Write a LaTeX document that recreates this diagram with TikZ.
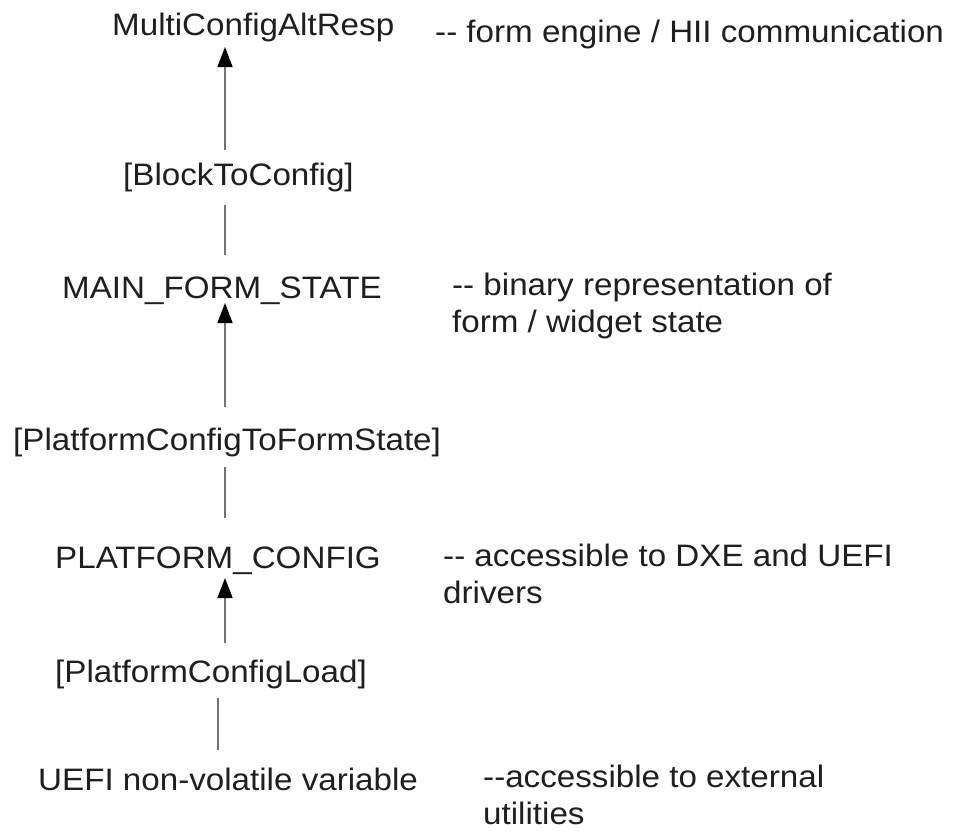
\documentclass[tikz,border=0pt]{standalone}
\usepackage{fontspec}
\setmainfont[FakeStretch=1.07]{Liberation Sans}
\usetikzlibrary{arrows.meta}
\begin{document}
\begin{tikzpicture}[x=1pt,y=-1pt,
  lbl/.style={anchor=base west, inner sep=0pt, text=black!88,
    font=\fontsize{31}{37}\selectfont},
  note/.style={lbl, align=left},
  flow/.style={draw=black!55, line width=1.7pt,
    -{Triangle[length=20pt,width=15pt,color=black]}},
  link/.style={draw=black!55, line width=1.7pt}]
  \useasboundingbox[fill=white] (0,0) rectangle (959,831);

  % stages, top to bottom
  \node[lbl] (mcar) at (112,35)  {MultiConfigAltResp};
  \node[lbl] (btc)  at (123,185) {[BlockToConfig]};
  \node[lbl] (mfs)  at (62,298)  {MAIN\_FORM\_STATE};
  \node[lbl] (pcfs) at (13,450)  {[PlatformConfigToFormState]};
  \node[lbl] (pc)   at (55,568)  {PLATFORM\_CONFIG};
  \node[lbl] (pcl)  at (55,682)  {[PlatformConfigLoad]};
  \node[lbl] (nv)   at (38,790)  {UEFI non-volatile variable};

  % remarks on the right (base = last line)
  \node[note] (n1) at (435,42)  {-{}- form engine / HII communication};
  \node[note] (n2) at (452,332) {-{}- binary representation of\\form / widget state};
  \node[note] (n3) at (443,603) {-{}- accessible to DXE and UEFI\\drivers};
  \node[note] (n4) at (483,824) {-{}-accessible to external\\utilities};

  % connector end points
  \coordinate (a1) at (225,150); \coordinate (b1) at (225,47);
  \coordinate (a2) at (225,255); \coordinate (b2) at (225,205);
  \coordinate (a3) at (225,407); \coordinate (b3) at (225,303);
  \coordinate (a4) at (225,518); \coordinate (b4) at (225,467);
  \coordinate (a5) at (225,643); \coordinate (b5) at (225,578);
  \coordinate (a6) at (218,750); \coordinate (b6) at (218,698);

  \draw[flow] (a1) -- (b1);
  \draw[link] (a2) -- (b2);
  \draw[flow] (a3) -- (b3);
  \draw[link] (a4) -- (b4);
  \draw[flow] (a5) -- (b5);
  \draw[link] (a6) -- (b6);
\end{tikzpicture}
\end{document}
